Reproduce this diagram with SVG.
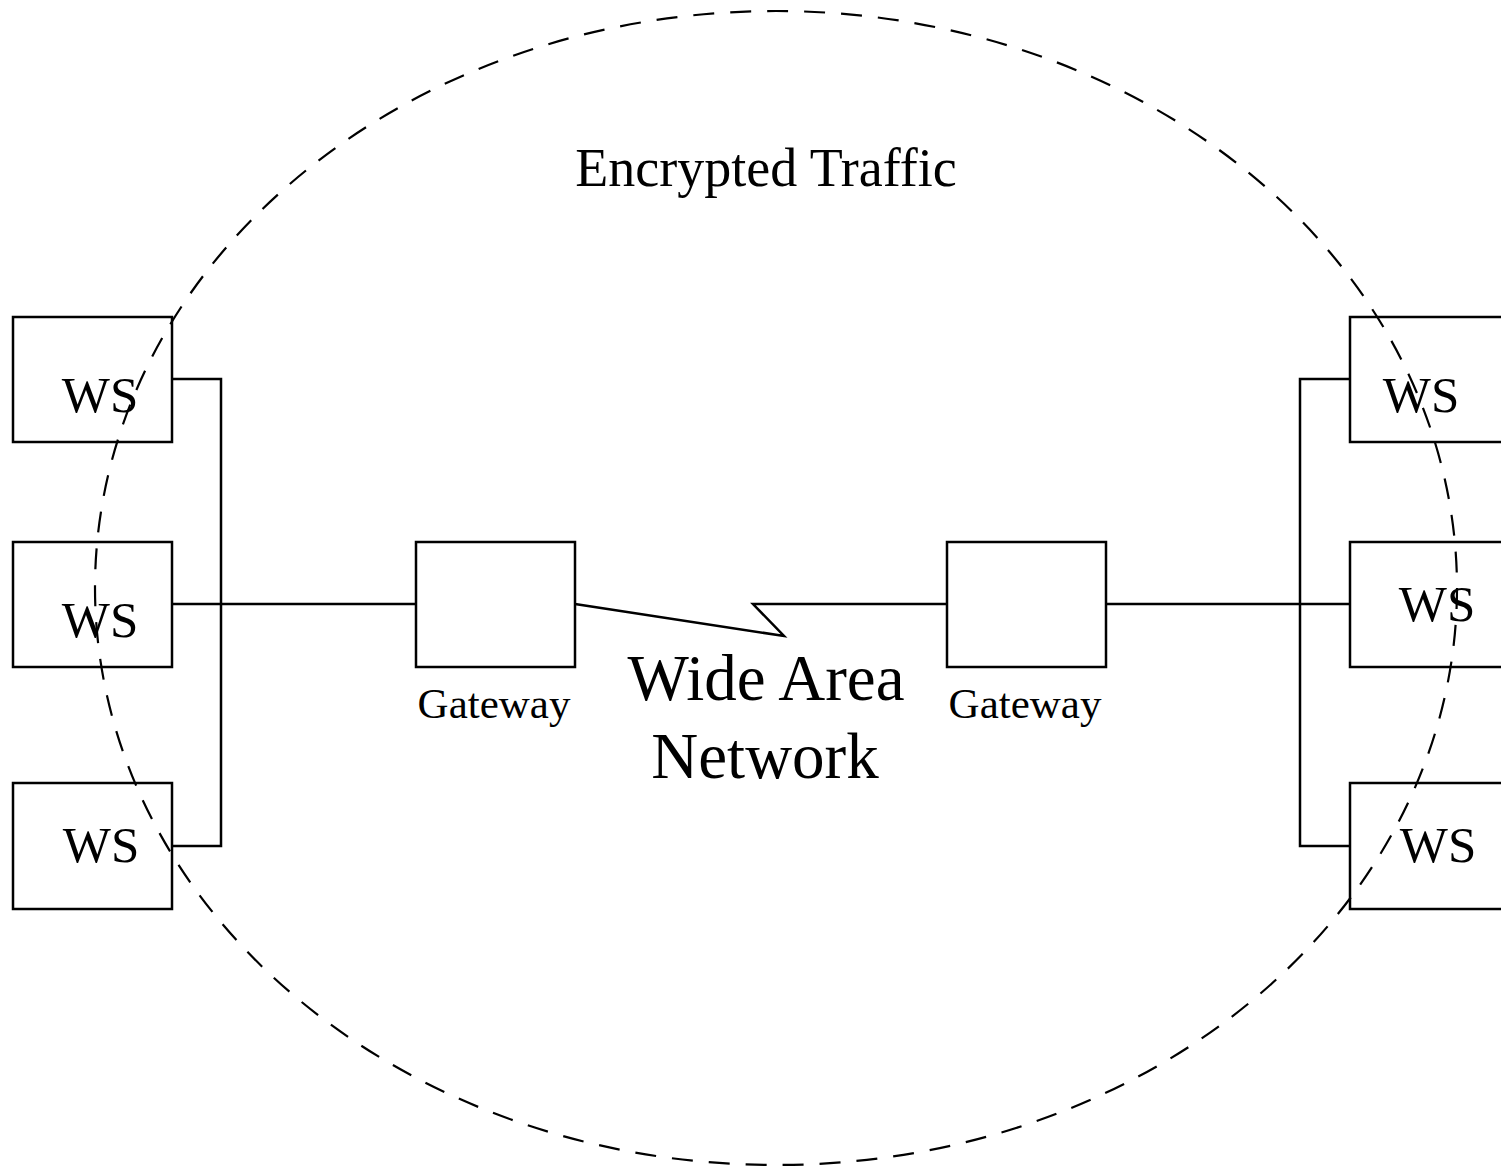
<svg xmlns="http://www.w3.org/2000/svg" width="1501" height="1167" viewBox="0 0 1501 1167">
<style>
.box{fill:none;stroke:#000;stroke-width:2.5}
.ln{fill:none;stroke:#000;stroke-width:2.5}
.t{font-family:"Liberation Serif","Times New Roman",serif;fill:#000;text-anchor:middle}
.ws{font-size:51px}
.gw{font-size:43px}
</style>
<rect width="1501" height="1167" fill="#fff"/>
<g id="connectors">
<polyline class="ln" points="172,379 221,379 221,846 172,846"/>
<line class="ln" x1="172" y1="604" x2="416" y2="604"/>
<polyline class="ln" points="1350,379 1300,379 1300,846 1350,846"/>
<line class="ln" x1="1106" y1="604" x2="1350" y2="604"/>
<polyline class="ln" points="575,604 784,636 753,604 947,604"/>
</g>
<g id="ws-left-1"><rect class="box" x="13" y="317" width="159" height="125"/><text class="t ws" x="100" y="412">WS</text></g>
<g id="ws-left-2"><rect class="box" x="13" y="542" width="159" height="125"/><text class="t ws" x="100" y="637">WS</text></g>
<g id="ws-left-3"><rect class="box" x="13" y="783" width="159" height="126"/><text class="t ws" x="101" y="862">WS</text></g>
<g id="ws-right-1"><rect class="box" x="1350" y="317" width="160" height="125"/><text class="t ws" x="1421" y="412">WS</text></g>
<g id="ws-right-2"><rect class="box" x="1350" y="542" width="160" height="125"/><text class="t ws" x="1437" y="621">WS</text></g>
<g id="ws-right-3"><rect class="box" x="1350" y="783" width="160" height="126"/><text class="t ws" x="1438" y="862">WS</text></g>
<g id="gateway-left"><rect class="box" x="416" y="542" width="159" height="125"/><text class="t gw" x="494" y="718">Gateway</text></g>
<g id="gateway-right"><rect class="box" x="947" y="542" width="159" height="125"/><text class="t gw" x="1025" y="718">Gateway</text></g>
<g id="wan"><text class="t" style="font-size:65px" x="766" y="700">Wide Area</text><text class="t" style="font-size:65px" x="765" y="778">Network</text></g>
<g id="encrypted"><ellipse cx="776" cy="588" rx="681" ry="577" fill="none" stroke="#000" stroke-width="2.2" stroke-dasharray="21 16"/><text class="t" style="font-size:54px" x="766" y="186">Encrypted Traffic</text></g>
</svg>
